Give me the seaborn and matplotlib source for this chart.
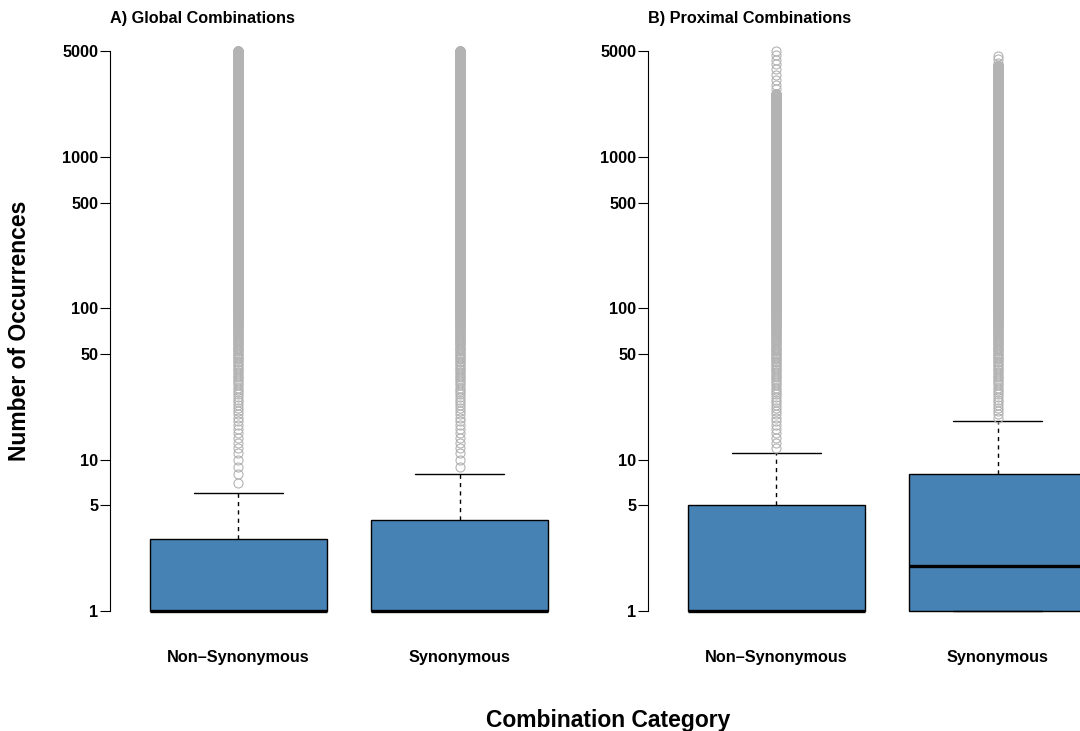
import numpy as np
import pandas as pd
import matplotlib
matplotlib.use("Agg")
import matplotlib.pyplot as plt
from matplotlib.ticker import FixedLocator, NullLocator
import seaborn as sns

# ---------------------------------------------------------------------------
# Data
# ---------------------------------------------------------------------------
categories = ["Non\u2013Synonymous", "Synonymous"]
panel_titles = ["A) Global Combinations", "B) Proximal Combinations"]
y_ticks = [1, 5, 10, 50, 100, 500, 1000, 5000]

# Frequency tables for the bulk of each distribution:
# occurrence value -> number of combinations with that value
global_ns_values = [1, 2, 3, 4, 5, 6]
global_ns_counts = [60000, 10000, 10000, 8000, 6000, 6000]
global_syn_values = [1, 2, 3, 4, 5, 6, 7, 8]
global_syn_counts = [55000, 10000, 8000, 10000, 5000, 4000, 4000, 4000]
prox_ns_values = [1, 2, 3, 4, 5, 6, 7, 8, 9, 10, 11]
prox_ns_counts = [56000, 6000, 5000, 4000, 8000, 5000, 4000, 3000, 3000, 3000, 3000]
prox_syn_values = [1, 2, 3, 4, 5, 6, 7, 8, 9, 10, 11, 12, 13, 14, 15, 16, 17, 18]
prox_syn_counts = [40000, 15000, 3000, 3000, 3000, 3000, 3000, 8000,
                   2200, 2200, 2200, 2200, 2200, 2200, 2200, 2200, 2200, 2200]

# Rare, highly recurrent combinations: contiguous runs of observed values
# (inclusive) plus isolated values at the top of the range
global_ns_outlier_runs = [(7, 5000)]
global_ns_outlier_singles = []
global_syn_outlier_runs = [(9, 5000)]
global_syn_outlier_singles = []
prox_ns_outlier_runs = [(12, 2600)]
prox_ns_outlier_singles = [2800, 3000, 3250, 3500, 3800, 4100, 4400, 4700, 5000]
prox_syn_outlier_runs = [(19, 4000)]
prox_syn_outlier_singles = [4200, 4450, 4670]


def build_group(values, counts, runs, singles):
    bulk = np.repeat(values, counts)
    extra = [np.arange(lo, hi + 1) for lo, hi in runs]
    extra.append(np.asarray(singles, dtype=int))
    return np.concatenate([bulk] + extra)


def build_panel(groups):
    frames = []
    for cat, vals in zip(categories, groups):
        frames.append(pd.DataFrame({"category": cat, "occurrences": vals}))
    return pd.concat(frames, ignore_index=True)


global_df = build_panel([
    build_group(global_ns_values, global_ns_counts,
                global_ns_outlier_runs, global_ns_outlier_singles),
    build_group(global_syn_values, global_syn_counts,
                global_syn_outlier_runs, global_syn_outlier_singles),
])
prox_df = build_panel([
    build_group(prox_ns_values, prox_ns_counts,
                prox_ns_outlier_runs, prox_ns_outlier_singles),
    build_group(prox_syn_values, prox_syn_counts,
                prox_syn_outlier_runs, prox_syn_outlier_singles),
])

# ---------------------------------------------------------------------------
# Figure
# ---------------------------------------------------------------------------
sns.set_theme(style="white")
plt.rcParams["font.family"] = ["Liberation Sans", "DejaVu Sans"]
plt.rcParams["font.weight"] = "bold"
plt.rcParams["text.color"] = "black"
plt.rcParams["axes.labelcolor"] = "black"
plt.rcParams["xtick.color"] = "black"
plt.rcParams["ytick.color"] = "black"

W, H = 1080, 731
fig = plt.figure(figsize=(W / 100, H / 100), dpi=100)

box_color = "#4682B4"
outlier_grey = "#B3B3B3"
label_size = 11.7
axis_title_size = 16.5

ax_w = 478 / W
ax_h = 604 / H
ax_b = (H - 633) / H
axes = [fig.add_axes([110 / W, ax_b, ax_w, ax_h]),
        fig.add_axes([648 / W, ax_b, ax_w, ax_h])]

for ax, df, title in zip(axes, [global_df, prox_df], panel_titles):
    sns.boxplot(
        data=df, x="category", y="occurrences", order=categories, ax=ax,
        color=box_color, saturation=1, width=0.8, whis=1.5,
        linecolor="black", linewidth=1.0, fliersize=6.5,
        boxprops=dict(edgecolor="black", linewidth=1.0),
        medianprops=dict(color="black", linewidth=2.4),
        whiskerprops=dict(color="black", linewidth=1.0, linestyle=(0, (3, 3))),
        capprops=dict(color="black", linewidth=1.0),
        flierprops=dict(marker="o", markerfacecolor="none",
                        markeredgecolor=outlier_grey, markeredgewidth=0.8,
                        markersize=6.5),
    )
    ax.set_yscale("log")
    ax.set_ylim(10 ** -0.145, 10 ** 3.847)
    ax.set_xlim(-0.58, 1.58)
    ax.yaxis.set_major_locator(FixedLocator(y_ticks))
    ax.yaxis.set_minor_locator(NullLocator())
    ax.set_yticklabels([str(t) for t in y_ticks], fontsize=label_size,
                       fontweight="bold", color="black")
    ax.set_xticks([0, 1])
    ax.set_xticklabels(categories, fontsize=label_size, fontweight="bold",
                       color="black")
    ax.tick_params(axis="y", direction="out", length=7, width=0.8, pad=1.5,
                   left=True, colors="black")
    ax.tick_params(axis="x", length=0, pad=12, colors="black")
    ax.set_xlabel("")
    ax.set_ylabel("")
    for side in ["top", "right", "bottom"]:
        ax.spines[side].set_visible(False)
    ax.spines["left"].set_bounds(1, 5000)
    ax.spines["left"].set_color("black")
    ax.spines["left"].set_linewidth(0.8)
    ax.grid(False)
    ax.patch.set_alpha(0)
    pos = ax.get_position()
    fig.text(pos.x0, 1 - 19 / H, title, ha="left", va="center",
             fontsize=label_size, fontweight="bold", color="black")

fig.text(20 / W, 1 - 331 / H, "Number of Occurrences", rotation=90,
         ha="center", va="center", fontsize=axis_title_size,
         fontweight="bold", color="black")
fig.text(608 / W, 1 - 727 / H, "Combination Category",
         ha="center", va="baseline", fontsize=axis_title_size,
         fontweight="bold", color="black")

fig.savefig("out.png", dpi=100)
